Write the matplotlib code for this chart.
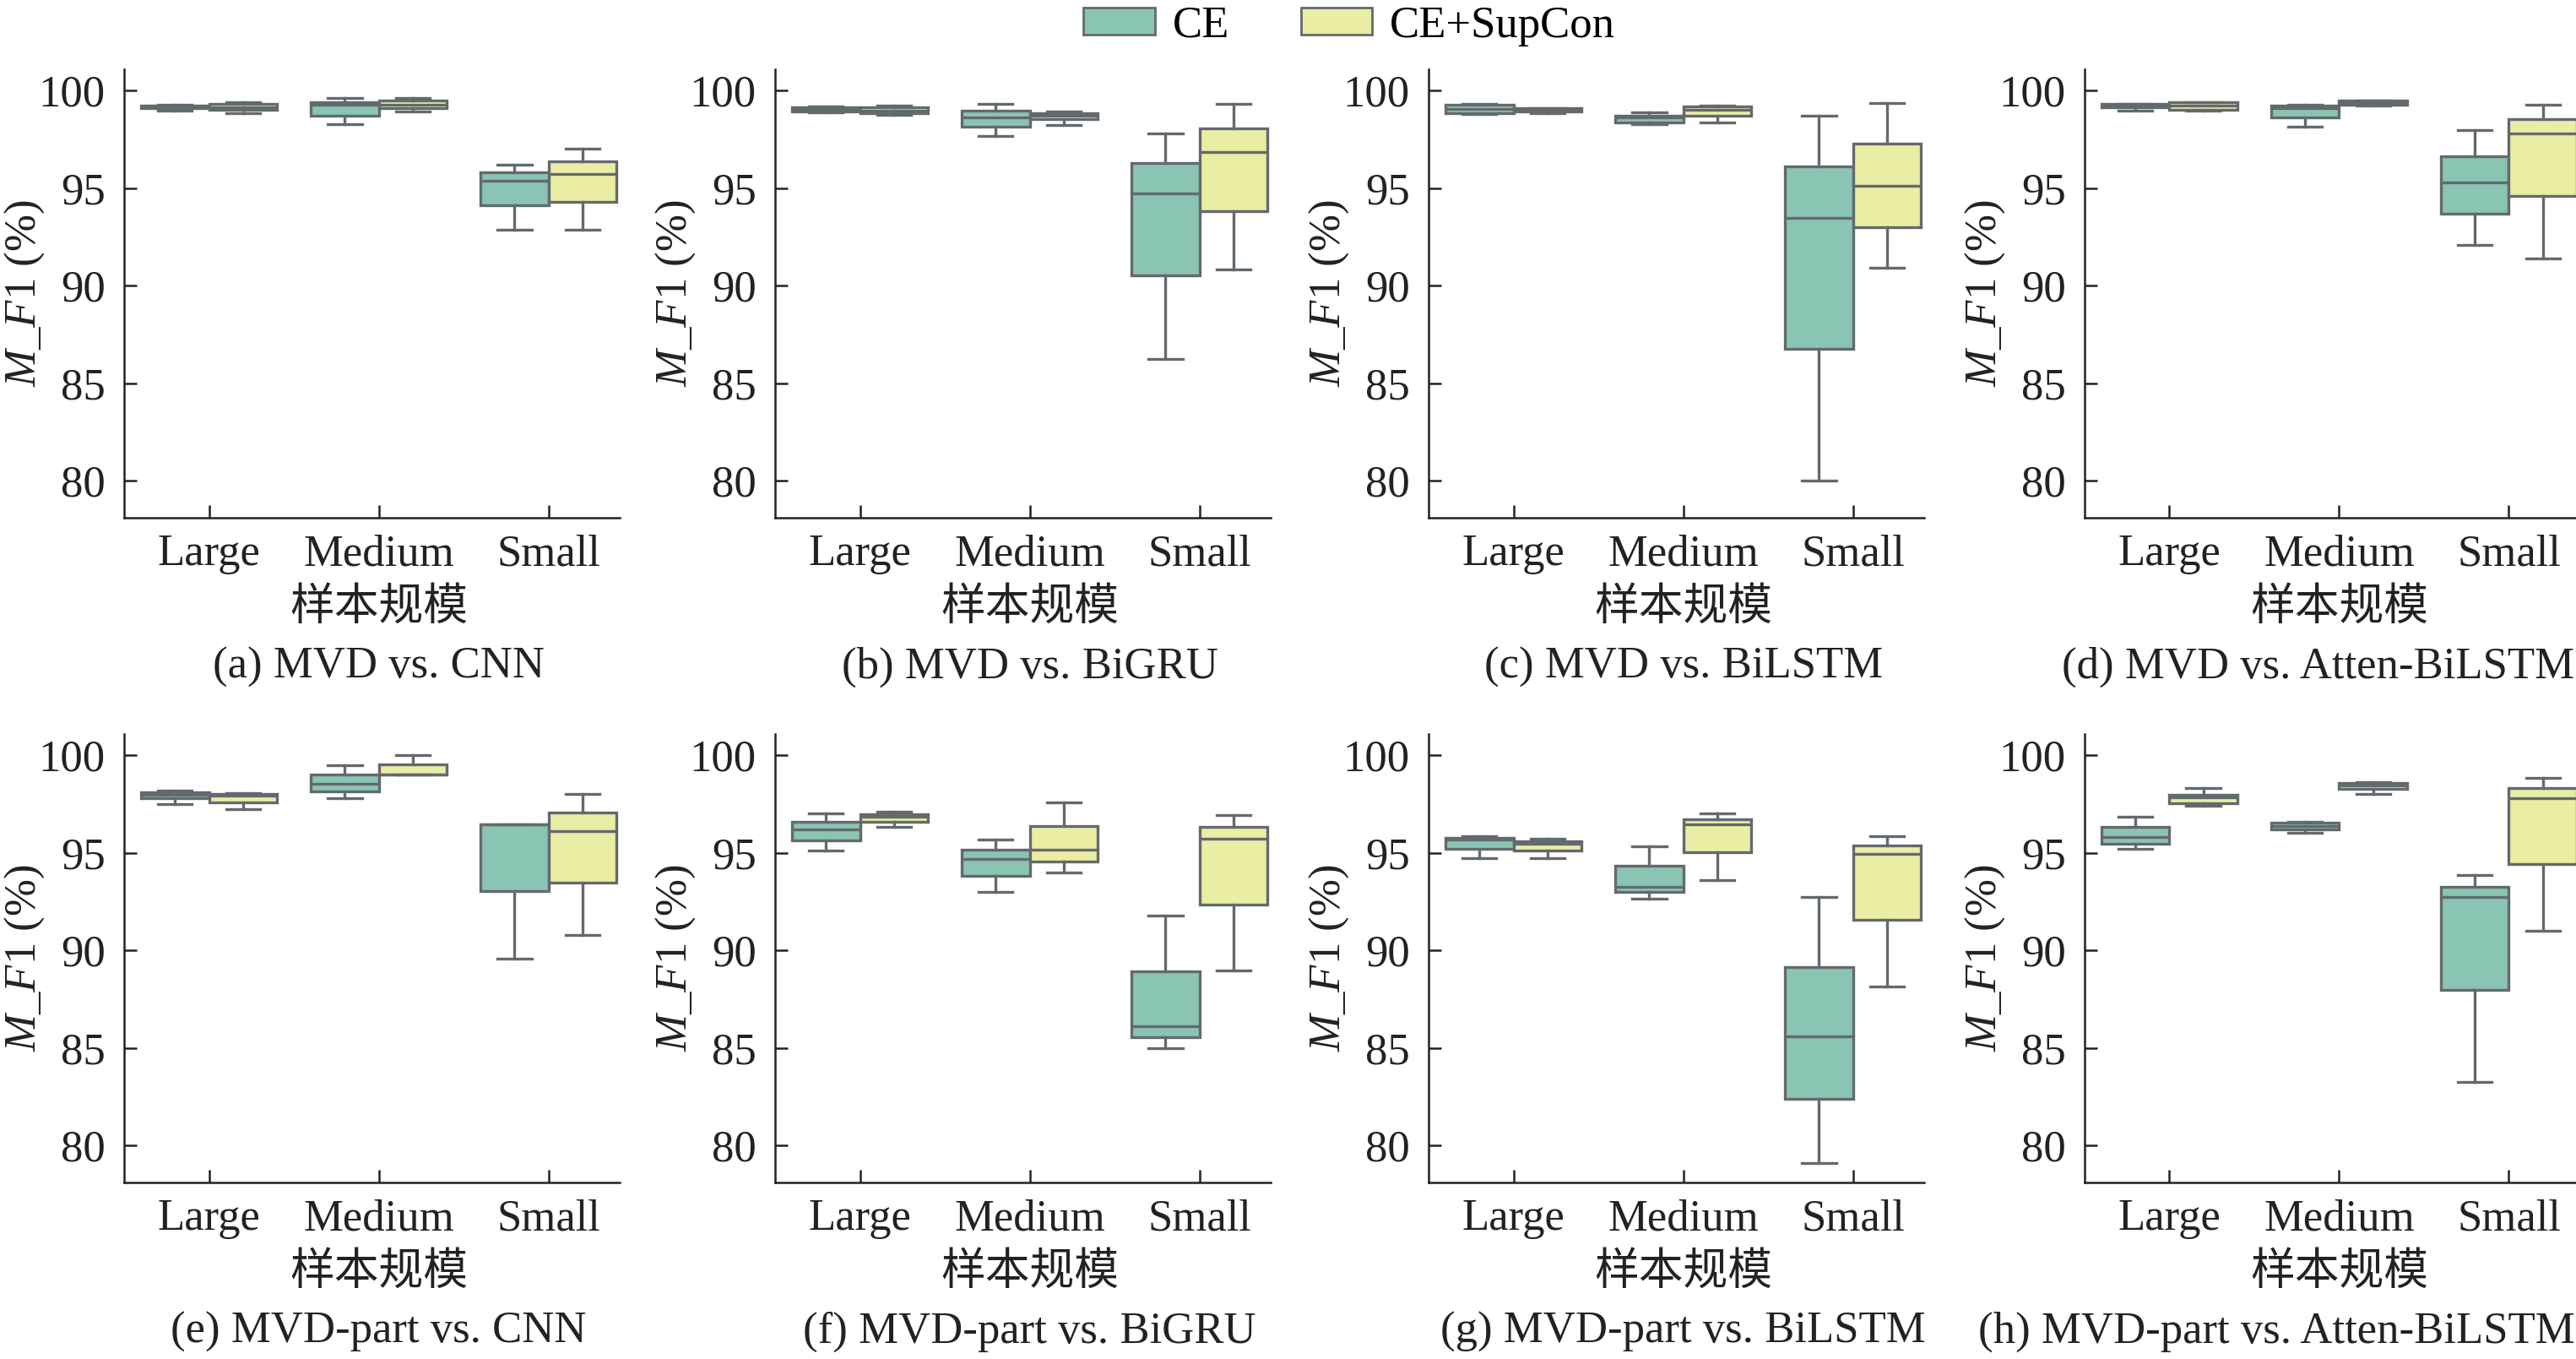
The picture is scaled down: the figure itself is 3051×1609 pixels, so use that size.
import matplotlib
matplotlib.use("Agg")
import matplotlib.pyplot as plt
from matplotlib.patches import Patch

plt.rcParams['font.family'] = ['Liberation Serif', 'Noto Sans CJK SC']
plt.rcParams['mathtext.fontset'] = 'custom'
plt.rcParams['mathtext.rm'] = 'Liberation Serif'
plt.rcParams['mathtext.it'] = 'Liberation Serif:italic'

# Sample sizes on the x axis
categories = ["Large", "Medium", "Small"]
groups = ["CE", "CE+SupCon"]

# Box summaries: [whislo, q1, median, q3, whishi] per sample size
a_ce = [[99.00, 99.10, 99.15, 99.25, 99.30], [98.28, 98.72, 99.27, 99.43, 99.65], [92.86, 94.12, 95.40, 95.80, 96.22]]
a_sc = [[98.85, 99.03, 99.16, 99.34, 99.42], [98.92, 99.12, 99.27, 99.51, 99.65], [92.86, 94.30, 95.71, 96.38, 97.02]]
b_ce = [[98.90, 98.95, 99.05, 99.15, 99.20], [97.68, 98.14, 98.65, 98.96, 99.34], [86.25, 90.54, 94.74, 96.31, 97.81]]
b_sc = [[98.76, 98.85, 99.00, 99.16, 99.25], [98.25, 98.54, 98.74, 98.87, 98.94], [90.83, 93.81, 96.86, 98.08, 99.31]]
c_ce = [[98.82, 98.85, 99.07, 99.29, 99.33], [98.30, 98.39, 98.63, 98.72, 98.90], [80.02, 86.76, 93.46, 96.11, 98.74]]
c_sc = [[98.85, 98.94, 99.03, 99.12, 99.12], [98.39, 98.72, 99.03, 99.20, 99.25], [90.92, 93.02, 95.14, 97.28, 99.38]]
d_ce = [[99.00, 99.16, 99.27, 99.34, 99.34], [98.14, 98.63, 99.12, 99.23, 99.29], [92.09, 93.68, 95.31, 96.64, 97.97]]
d_sc = [[99.00, 99.03, 99.23, 99.40, 99.42], [99.23, 99.29, 99.40, 99.49, 99.49], [91.38, 94.59, 97.81, 98.56, 99.27]]
e_ce = [[97.50, 97.80, 97.97, 98.10, 98.20], [97.80, 98.13, 98.55, 99.02, 99.49], [89.58, 93.03, 96.44, 96.44, 96.44]]
e_sc = [[97.24, 97.60, 97.93, 98.00, 98.06], [99.02, 99.02, 99.02, 99.53, 100.00], [90.78, 93.47, 96.12, 97.08, 98.02]]
f_ce = [[95.10, 95.63, 96.21, 96.59, 97.02], [92.98, 93.81, 94.68, 95.17, 95.66], [84.99, 85.55, 86.10, 88.91, 91.76]]
f_sc = [[96.35, 96.61, 96.86, 96.99, 97.13], [94.01, 94.57, 95.14, 96.37, 97.59], [88.95, 92.34, 95.72, 96.35, 96.93]]
g_ce = [[94.74, 95.21, 95.66, 95.77, 95.84], [92.65, 92.98, 93.27, 94.32, 95.35], [79.11, 82.36, 85.57, 89.15, 92.74]]
g_sc = [[94.74, 95.12, 95.48, 95.61, 95.72], [93.61, 95.01, 96.44, 96.70, 97.02], [88.13, 91.56, 94.94, 95.39, 95.84]]
h_ce = [[95.21, 95.46, 95.79, 96.33, 96.86], [96.01, 96.19, 96.37, 96.53, 96.59], [83.25, 87.97, 92.72, 93.25, 93.85]]
h_sc = [[97.42, 97.53, 97.84, 97.97, 98.31], [98.04, 98.26, 98.46, 98.60, 98.62], [91.02, 94.41, 97.82, 98.31, 98.82]]

titles = ["(a) MVD vs. CNN", "(b) MVD vs. BiGRU", "(c) MVD vs. BiLSTM", "(d) MVD vs. Atten-BiLSTM",
          "(e) MVD-part vs. CNN", "(f) MVD-part vs. BiGRU", "(g) MVD-part vs. BiLSTM",
          "(h) MVD-part vs. Atten-BiLSTM"]
panels = [(a_ce, a_sc), (b_ce, b_sc), (c_ce, c_sc), (d_ce, d_sc),
          (e_ce, e_sc), (f_ce, f_sc), (g_ce, g_sc), (h_ce, h_sc)]

colors = ["#8AC4B3", "#EAEDA4"]
line_c = "#636A6E"
fs = 38

fig = plt.figure(figsize=(30.51, 16.09), dpi=100)

lefts = [0.0482, 0.3009, 0.5546, 0.8092]
bottoms = [0.619, 0.130]
w, h = 0.1924, 0.330


def to_stats(rows):
    out = []
    for lo, q1, med, q3, hi in rows:
        out.append(dict(whislo=lo, q1=q1, med=med, q3=q3, whishi=hi, fliers=[]))
    return out


for k, (ce, sc) in enumerate(panels):
    ax = fig.add_axes([lefts[k % 4], bottoms[k // 4], w, h])
    for j, data in enumerate([ce, sc]):
        pos = [i - 0.2 + 0.4 * j for i in range(len(categories))]
        lp = dict(color=line_c, linewidth=2.4)
        ax.bxp(to_stats(data), positions=pos, widths=0.4, patch_artist=True,
               showfliers=False,
               boxprops=dict(facecolor=colors[j], edgecolor=line_c, linewidth=2.4),
               medianprops=lp, whiskerprops=lp, capprops=lp)

    ax.set_xlim(-0.5, 2.42)
    ax.set_ylim(78.1, 101.1)
    ax.set_yticks([80, 85, 90, 95, 100])
    ax.set_xticks(range(len(categories)))
    ax.set_xticklabels(categories)
    for s in ["top", "right"]:
        ax.spines[s].set_visible(False)
    for s in ["left", "bottom"]:
        ax.spines[s].set_linewidth(1.8)
        ax.spines[s].set_color("#222222")
    ax.tick_params(direction="in", length=11, width=1.8, color="#222222",
                   labelsize=fs, labelcolor="#222222")
    ax.tick_params(axis="x", pad=14)
    ax.tick_params(axis="y", pad=16)

    ax.set_ylabel("$M$_$F$1 (%)", fontsize=fs, color="#222222", va="center")
    ax.yaxis.set_label_coords(-0.2, 0.5)
    ax.set_xlabel("样本规模", fontsize=fs, color="#222222", va="center")
    ax.xaxis.set_label_coords(0.5137, -0.202)
    if k % 4 == 3:
        # last column is cropped at the right edge, titles end right at it
        ax.text(0.9995, -0.333, titles[k],
                transform=ax.get_yaxis_transform().__class__(fig.transFigure, ax.transAxes),
                fontsize=fs, color="#222222", ha="right", va="center")
    else:
        ax.text(0.5137, -0.333, titles[k], transform=ax.transAxes, fontsize=fs,
                color="#222222", ha="center", va="center")

handles = [Patch(facecolor=colors[i], edgecolor=line_c, linewidth=2, label=groups[i])
           for i in range(len(groups))]
fig.legend(handles=handles, loc="center", bbox_to_anchor=(0.5238, 0.981), ncol=2,
           frameon=False, fontsize=fs, handlelength=1.6, handleheight=0.57,
           handletextpad=0.4, columnspacing=1.6, borderpad=0)

fig.savefig("out.png", dpi=100)
